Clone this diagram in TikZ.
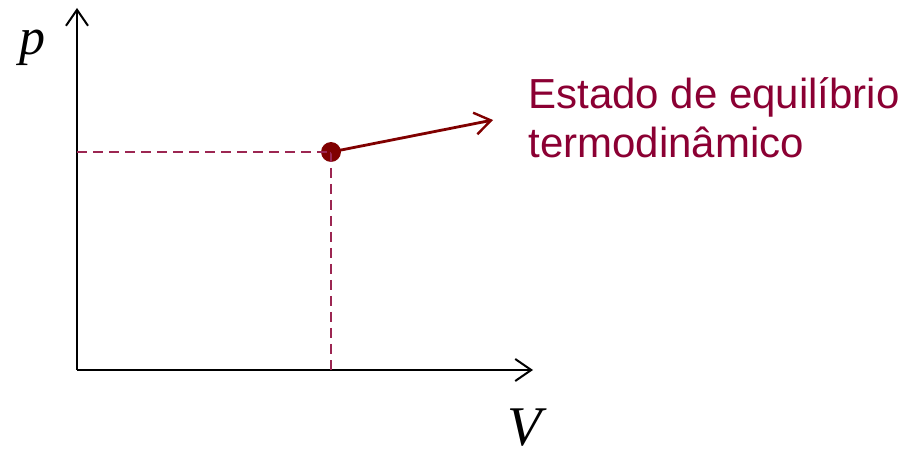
\documentclass[tikz,border=0pt]{standalone}
\usepackage{fontspec}
\setmainfont{Liberation Sans}
\newfontfamily\serifit{Liberation Serif}
\usetikzlibrary{arrows.meta}
\definecolor{vinho}{RGB}{139,0,51}
\definecolor{ponto}{RGB}{128,0,0}
\begin{document}
\begin{tikzpicture}[
			x=0.5pt, y=-0.5pt,
			eixo/.style={line width=1pt, black,
				-{Straight Barb[length=8pt, width=11pt, line width=1pt]}},
			guia/.style={line width=0.9pt, vinho!85,
				dash pattern=on 5pt off 3pt},
			seta/.style={line width=1.4pt, ponto,
				-{Straight Barb[length=8pt, width=11pt, line width=1.2pt]}},
			estado/.style={circle, fill=ponto, draw=ponto,
				inner sep=0pt, minimum size=9.5pt},
			]
			\useasboundingbox (0,0) rectangle (901,449);
			
			\coordinate (O) at (77, 370);
			\coordinate (Ytop) at (77, 8);
			\coordinate (Xtop) at (533, 370);
			\coordinate (Px) at (77, 152);
			\coordinate (Pv) at (331, 370);
			\coordinate (Ptip) at (493, 120);
			
			\draw[eixo](O)--(Ytop);
			\draw[eixo](O)--(Xtop);
			\node[estado] (E) at (331, 152){};
			\draw[guia](Px)--(E.center);
			\draw[guia](E.center)--(Pv);
			\draw[seta](E.center)--(Ptip);
			
			\node[font=\serifit\itshape\fontsize{26}{26}\selectfont]
			(lp) at (32, 48){p};
			\node[font=\serifit\itshape\fontsize{28}{28}\selectfont]
			(lV) at (525, 428){V};
			\node[anchor=west, align=left, text=vinho,
			font=\fontsize{21}{24.5}\selectfont, inner sep=0pt]
			(legenda) at (528, 118)
			{Estado de equilíbrio\\termodinâmico};
		\end{tikzpicture}
\end{document}
